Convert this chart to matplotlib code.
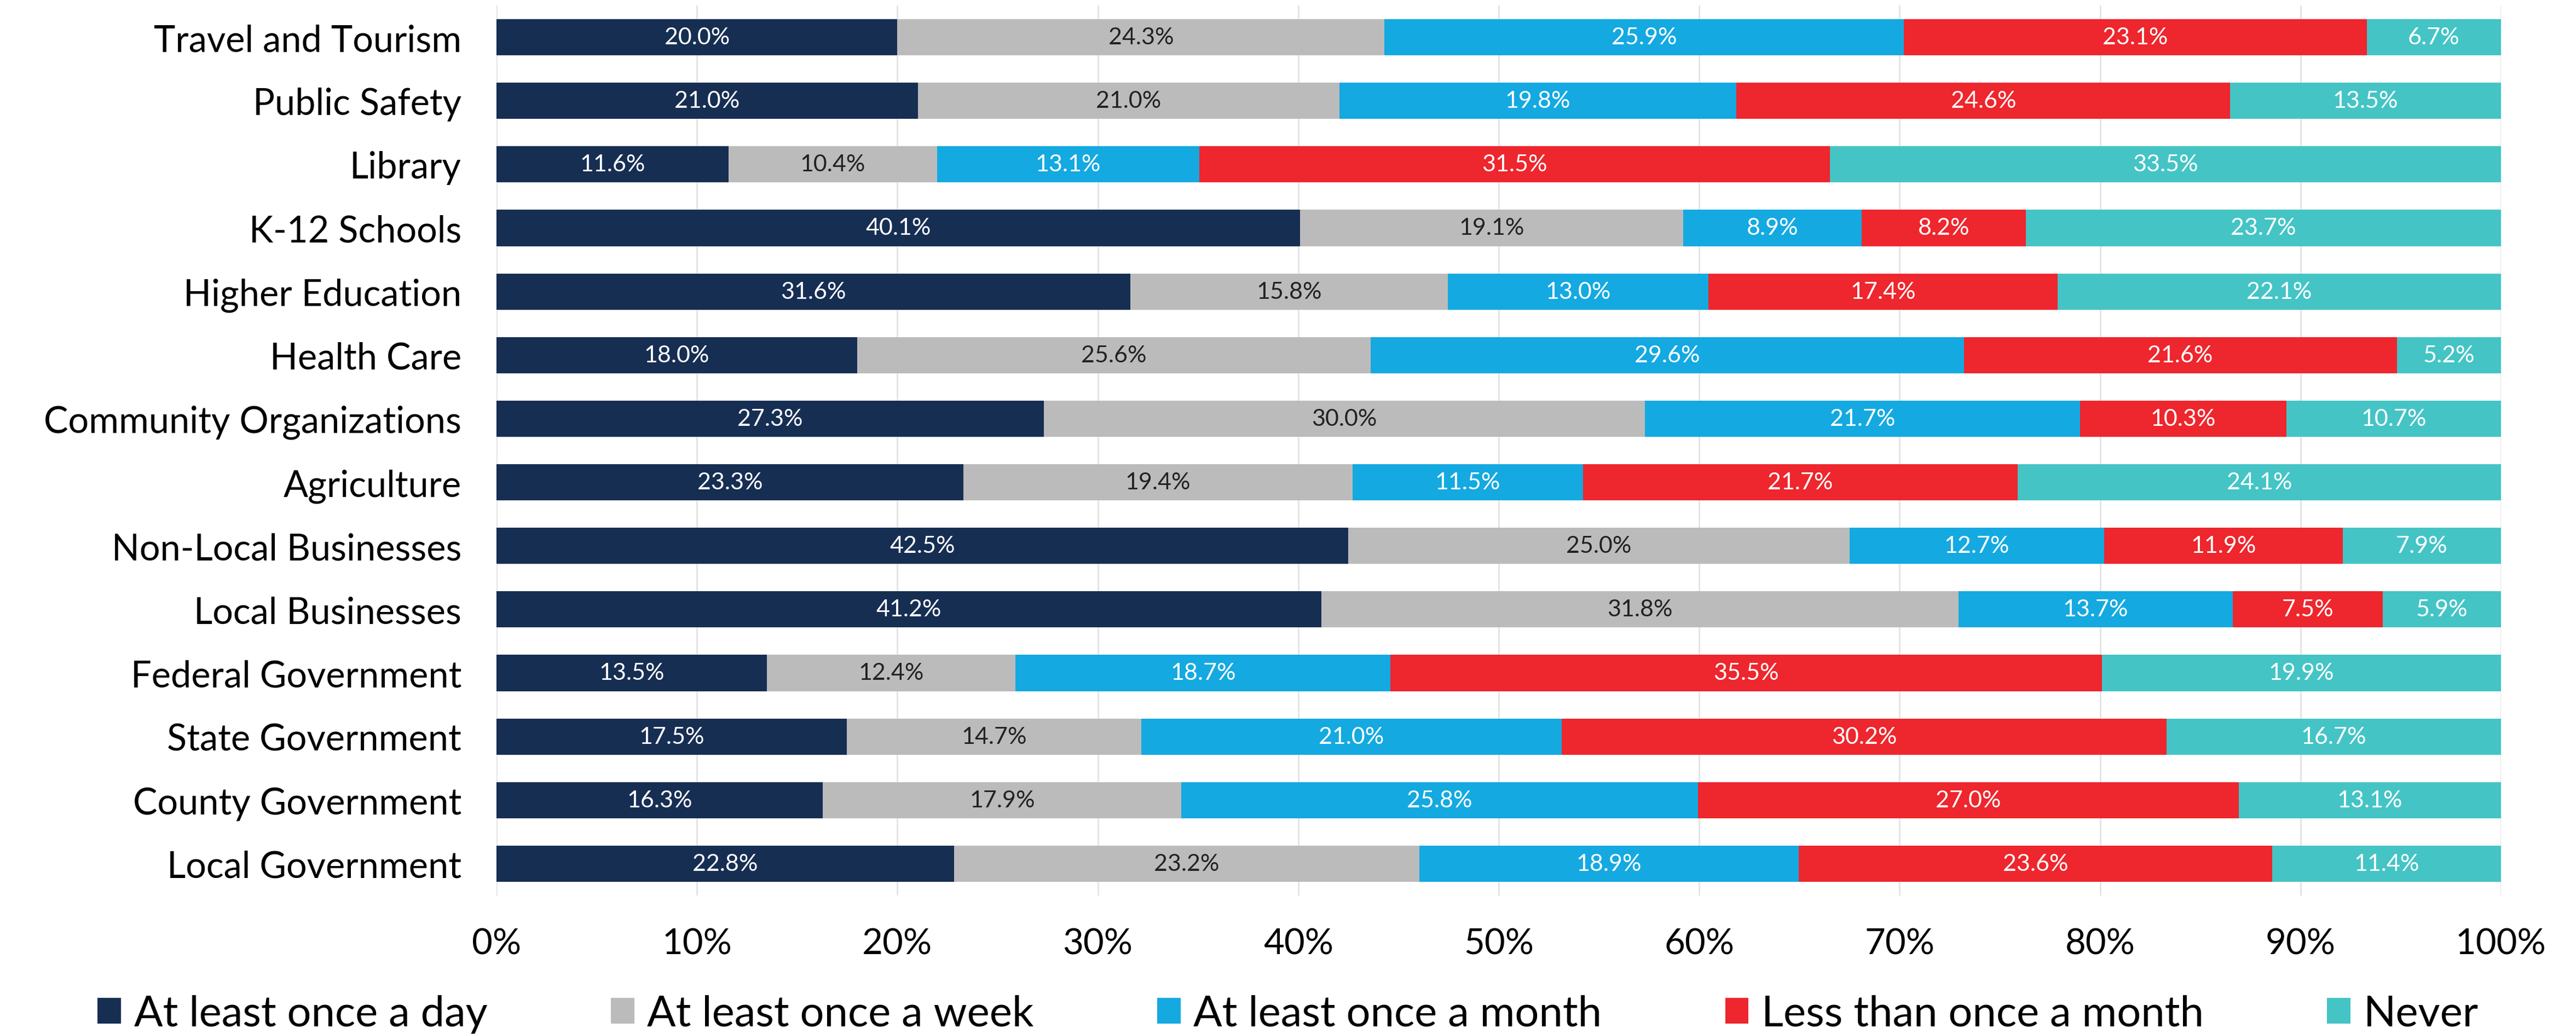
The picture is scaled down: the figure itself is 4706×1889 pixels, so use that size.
import numpy as np
import matplotlib.pyplot as plt
from matplotlib.patches import Patch

# Data (top to bottom).
categories = ["Travel and Tourism", "Public Safety", "Library", "K-12 Schools",
              "Higher Education", "Health Care", "Community Organizations",
              "Agriculture", "Non-Local Businesses", "Local Businesses",
              "Federal Government", "State Government", "County Government",
              "Local Government"]
series = ["At least once a day", "At least once a week", "At least once a month",
          "Less than once a month", "Never"]
daily   = [20.0, 21.0, 11.6, 40.1, 31.6, 18.0, 27.3, 23.3, 42.5, 41.2, 13.5, 17.5, 16.3, 22.8]
weekly  = [24.3, 21.0, 10.4, 19.1, 15.8, 25.6, 30.0, 19.4, 25.0, 31.8, 12.4, 14.7, 17.9, 23.2]
monthly = [25.9, 19.8, 13.1,  8.9, 13.0, 29.6, 21.7, 11.5, 12.7, 13.7, 18.7, 21.0, 25.8, 18.9]
less    = [23.1, 24.6, 31.5,  8.2, 17.4, 21.6, 10.3, 21.7, 11.9,  7.5, 35.5, 30.2, 27.0, 23.6]
never   = [ 6.7, 13.5, 33.5, 23.7, 22.1,  5.2, 10.7, 24.1,  7.9,  5.9, 19.9, 16.7, 13.1, 11.4]

colors = ["#172E53", "#BCBBBB", "#14A9E1", "#EE262D", "#45C4C5"]
label_colors = ["white", "#222222", "white", "white", "white"]

plt.rcParams["font.family"] = ["Lato", "DejaVu Sans"]

vals = np.array([daily, weekly, monthly, less, never])
shares = vals / vals.sum(axis=0) * 100  # bars are drawn as 100% stacked

fig = plt.figure(figsize=(47.06, 18.9), dpi=100)
ax = fig.add_axes([907 / 4706, 1 - 1637 / 1890, (4569 - 907) / 4706, (1637 - 11) / 1890])

y = np.arange(len(categories))
left = np.zeros(len(categories))
for i in range(len(series)):
    bars = ax.barh(y, shares[i], left=left, height=0.57, color=colors[i], zorder=3)
    for j, b in enumerate(bars):
        ax.text(left[j] + shares[i][j] / 2, y[j], f"{vals[i][j]:.1f}%",
                ha="center", va="center", fontsize=31, color=label_colors[i], zorder=4)
    left += shares[i]

ax.set_xlim(0, 100)
ax.set_ylim(len(categories) - 0.5, -0.5)
ax.set_yticks(y)
ax.set_yticklabels(categories, fontsize=48, color="black")
ax.set_xticks(np.arange(0, 101, 10))
ax.set_xticklabels([f"{t}%" for t in range(0, 101, 10)], fontsize=47, color="black")
ax.tick_params(axis="y", length=0, pad=46)
ax.tick_params(axis="x", length=0, pad=42)
ax.grid(axis="x", color="#E3E3E3", linewidth=2, zorder=0)
for s in ax.spines.values():
    s.set_visible(False)

handles = [Patch(facecolor=c, edgecolor="none") for c in colors]
fig.legend(handles, series, loc="lower center", bbox_to_anchor=(0.5, -0.02),
           ncol=5, frameon=False, fontsize=56, handlelength=0.55, handleheight=0.57,
           handletextpad=0.3, columnspacing=2.9, borderpad=0.0)

fig.savefig("out.png", dpi=100)
